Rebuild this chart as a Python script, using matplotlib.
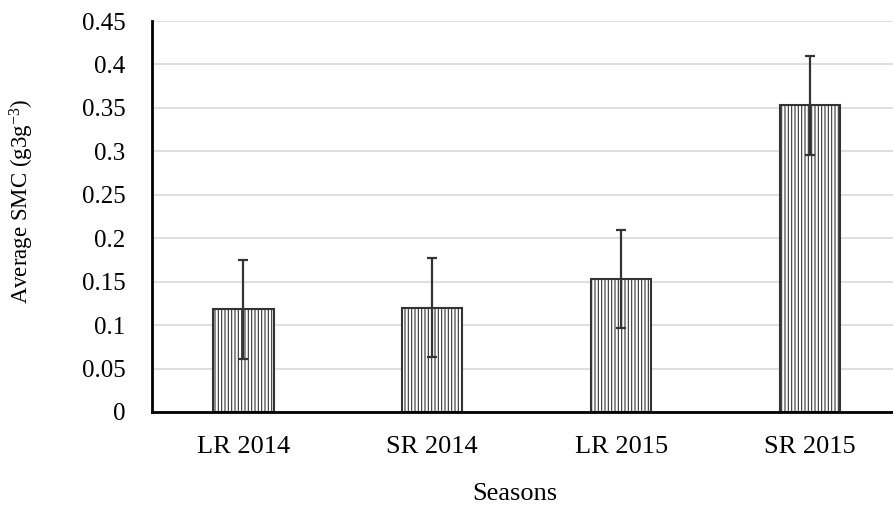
import matplotlib.pyplot as plt

# data
seasons = ['LR 2014', 'SR 2014', 'LR 2015', 'SR 2015']
smc_mean = [0.118, 0.120, 0.153, 0.353]
smc_err = [0.057, 0.057, 0.056, 0.057]
yticks = [0, 0.05, 0.1, 0.15, 0.2, 0.25, 0.3, 0.35, 0.4, 0.45]
ytick_labels = ['0', '0.05', '0.1', '0.15', '0.2', '0.25', '0.3', '0.35', '0.4', '0.45']

plt.rcParams['font.family'] = ['Liberation Serif', 'DejaVu Serif']
plt.rcParams['mathtext.fontset'] = 'custom'
plt.rcParams['mathtext.rm'] = 'Liberation Serif'
plt.rcParams['hatch.color'] = '#a5a5a5'
plt.rcParams['hatch.linewidth'] = 0.8

fig = plt.figure(figsize=(8.93, 5.08), dpi=100)
ax = fig.add_axes([152 / 893, 96 / 508, 741 / 893, 391 / 508])

x = range(len(seasons))
ax.bar(x, smc_mean, width=0.32, color='white', edgecolor='#333333',
       linewidth=1.5, hatch='|||||', zorder=2)
ax.errorbar(x, smc_mean, yerr=smc_err, fmt='none', ecolor='#333333',
            elinewidth=1.6, capsize=3.8, capthick=1.6, zorder=3)

ax.set_xlim(-0.484, 3.44)
ax.set_ylim(0, 0.45)
ax.set_xticks(list(x))
ax.set_xticklabels(seasons, fontsize=19)
ax.set_yticks(yticks)
ax.set_yticklabels(ytick_labels, fontsize=18)
ax.tick_params(length=0)
ax.tick_params(axis='y', pad=19)
ax.tick_params(axis='x', pad=17)

ax.grid(axis='y', color='#d9d9d9', linewidth=1.2, zorder=0)
ax.set_axisbelow(True)
for side in ['top', 'right']:
    ax.spines[side].set_visible(False)
for side in ['left', 'bottom']:
    ax.spines[side].set_linewidth(2)
    ax.spines[side].set_color('black')

ax.set_ylabel(r'Average SMC (g3g$\mathrm{^{-3}}$)', fontsize=16.5)
ax.set_xlabel('Seasons', fontsize=19)
ax.xaxis.set_label_coords((515 - 152) / 741, -(494 - 412) / 391)
ax.xaxis.label.set_va('center')
ax.yaxis.set_label_coords(-(152 - 22) / 741, 0.54)
ax.yaxis.label.set_va('center')

fig.savefig('out.png', dpi=100)
